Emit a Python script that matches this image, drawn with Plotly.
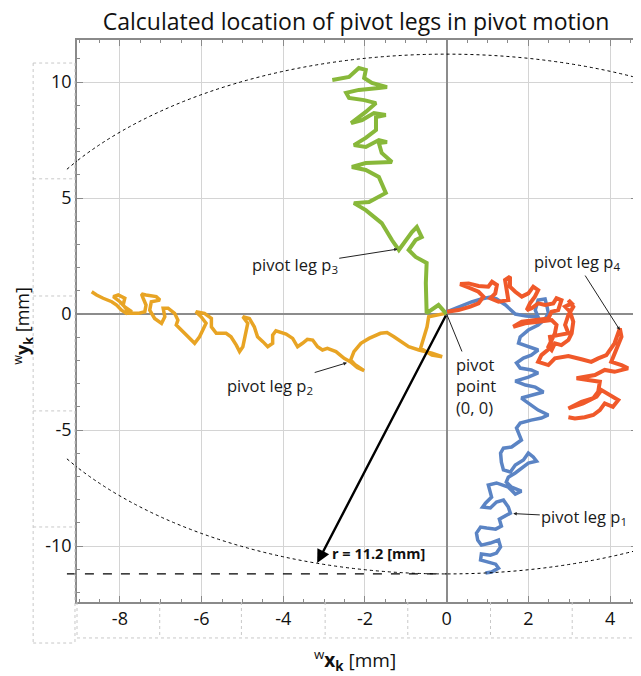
import plotly.graph_objects as go

# ---------------- data (mm) ----------------
p2_x = [-8.69,-8.57,-8.41,-8.20,-8.08,-7.96,-7.84,-7.71,-7.88,-8.00,-8.16,-8.04,-7.88,-7.92,-7.76,-7.55,-7.39,-7.36,-7.43,-7.47,
        -7.36,-7.11,-7.02,-7.23,-7.27,-7.15,-6.98,-6.90,-6.94,-6.82,-6.66,-6.58,-6.62,-6.46,-6.29,-6.17,-6.05,-5.97,-5.89,-6.01,
        -6.14,-5.93,-5.76,-5.76,-5.64,-5.40,-5.28,-5.15,-5.07,-4.99,-4.91,-4.87,-4.99,-4.83,-4.71,-4.63,-4.50,-4.38,-4.26,-4.26,
        -4.18,-3.93,-3.77,-3.65,-3.53,-3.41,-3.28,-3.16,-3.04,-2.92,-2.71,-2.51,-2.35,-2.19,-2.02,-2.23,-2.35,-2.27,-2.10,-1.90,
        -1.62,-1.46,-1.29,-1.13,-0.93,-0.68,-0.36,-0.11,-0.36,-0.64,-0.56,-0.48,-0.44,-0.24,-0.03]
p2_y = [0.96,0.82,0.68,0.53,0.39,0.17,0.03,0.10,0.31,0.53,0.75,0.82,0.68,0.39,0.03,0.03,0.10,0.39,0.68,0.86,
        0.82,0.75,0.60,0.53,0.17,-0.19,-0.40,-0.12,0.25,0.25,0.03,-0.26,-0.47,-0.76,-1.05,-1.26,-0.98,-0.69,-0.40,-0.12,
        0.10,0.03,-0.19,-0.55,-0.83,-0.83,-0.98,-1.34,-1.62,-1.41,-0.83,-0.40,-0.12,-0.19,-0.55,-0.98,-1.19,-1.41,-1.26,-0.91,
        -0.72,-0.86,-1.05,-1.41,-1.26,-1.09,-1.12,-1.41,-1.55,-1.48,-1.62,-1.91,-2.06,-2.30,-2.44,-2.20,-1.98,-1.62,-1.26,-1.05,
        -0.83,-0.80,-0.98,-1.19,-1.41,-1.55,-1.69,-1.84,-1.77,-1.48,-0.98,-0.55,-0.12,-0.04,0.03]

p3_x = [0.00,-0.20,-0.49,-0.51,-0.49,-0.76,-0.93,-0.76,-0.61,-0.73,-0.85,-1.17,-1.34,-1.59,-1.98,-2.27,-1.90,-1.49,-1.66,-1.98,
        -2.32,-1.98,-1.34,-1.59,-1.66,-1.46,-1.66,-1.98,-2.27,-1.98,-1.73,-1.73,-1.49,-1.78,-2.07,-2.34,-1.98,-1.73,-2.02,-2.39,
        -2.46,-2.15,-1.66,-1.46,-1.83,-2.02,-1.98,-2.15,-2.39,-2.80]
p3_y = [0.00,0.39,0.04,1.34,2.20,2.46,2.76,3.19,3.32,3.75,3.53,2.76,3.19,3.92,4.48,4.78,4.83,5.22,5.91,6.21,
        6.34,6.51,6.55,6.94,7.37,7.41,7.50,7.20,7.28,7.59,7.93,8.49,8.58,8.66,8.36,8.23,8.71,9.09,9.22,9.31,
        9.53,9.66,9.74,9.78,9.96,10.17,10.52,10.60,10.22,10.09]

p1_x = [0.00,0.29,0.61,0.85,1.07,1.22,1.44,1.68,1.95,2.24,2.17,2.24,2.41,2.46,2.49,2.41,2.24,2.00,1.80,1.76,
        2.00,2.24,2.07,1.88,1.71,1.80,2.07,2.24,2.00,1.68,1.93,2.17,2.37,2.07,1.83,2.00,2.24,2.49,2.32,2.07,
        1.80,1.71,1.76,1.83,1.59,1.39,1.32,1.34,1.39,1.56,1.68,1.88,2.00,2.12,2.20,2.00,1.68,1.51,1.46,1.59,
        1.83,1.68,1.51,1.22,1.02,1.07,1.10,0.95,0.88,1.07,1.22,1.39,1.51,1.56,1.39,1.29,1.34,1.20,0.98,0.83,
        0.73,0.76,0.85,1.07,1.27,1.32,1.22,1.07,0.85,0.83,1.02,1.20,1.27,1.10,0.95]
p1_y = [0.09,0.30,0.52,0.65,0.73,0.65,0.39,0.00,-0.09,-0.13,0.17,0.60,0.65,0.30,0.04,-0.22,-0.47,-0.69,-0.99,-1.25,
        -1.42,-1.55,-1.77,-1.90,-2.11,-2.33,-2.41,-2.54,-2.72,-2.89,-3.06,-3.15,-3.36,-3.49,-3.62,-3.84,-4.14,-4.35,-4.48,-4.57,
        -4.70,-4.91,-5.13,-5.43,-5.73,-5.78,-5.99,-6.38,-6.72,-6.81,-6.51,-6.29,-5.99,-6.16,-6.34,-6.42,-6.85,-7.03,-7.24,-7.46,
        -7.63,-7.76,-7.46,-7.28,-7.37,-7.63,-7.89,-8.15,-8.32,-8.36,-8.10,-8.02,-8.32,-8.58,-8.75,-8.84,-9.14,-9.27,-9.22,-9.18,
        -9.44,-9.74,-9.96,-9.87,-9.74,-10.04,-10.30,-10.39,-10.34,-10.60,-10.69,-10.78,-10.95,-11.12,-11.16]

p4_x = [0.01,0.29,0.58,0.78,0.90,0.78,0.58,0.33,0.54,0.78,1.02,1.11,1.23,1.19,1.07,1.27,1.51,1.47,1.43,1.55,
        1.55,1.68,1.84,2.00,2.12,2.24,2.16,2.04,1.96,2.08,2.24,2.41,2.61,2.69,2.81,2.73,2.57,
        2.49,2.24,1.84,1.63,1.92,2.24,2.57,2.69,2.65,2.57,2.49,2.57,2.65,2.81,2.98,3.06,3.10,3.02,2.90,3.06,
        2.98,3.10,2.98,2.90,2.98,2.73,2.53,2.57,2.32,2.24,2.49,2.65,2.98,3.30,3.54,3.71,3.91,4.11,4.20,4.24,
        4.28,4.15,4.03,4.28,4.44,4.11,3.87,3.63,3.38,3.18,3.46,3.75,3.71,3.59,3.30,2.98,3.34,3.67,3.79,3.99,
        4.20,4.07,3.87,3.75,3.59,3.38,3.14,2.98]
p4_y = [0.10,0.17,0.32,0.46,0.75,0.96,1.11,1.29,1.32,1.21,1.18,1.39,1.25,0.89,0.68,0.53,0.60,0.96,1.47,1.61,
        1.18,0.96,0.75,0.89,1.18,1.03,0.75,0.46,0.17,0.25,0.46,0.39,0.46,0.68,0.60,0.17,0.10,
        -0.19,-0.26,-0.33,-0.55,-0.40,-0.33,-0.26,-0.47,-0.83,-1.12,-1.41,-1.55,-1.26,-1.34,-1.12,-0.83,-0.33,0.10,0.32,0.46,
        0.60,0.31,-0.04,-0.47,-0.83,-0.91,-0.98,-1.41,-1.77,-2.06,-2.20,-1.91,-1.81,-1.95,-2.06,-1.91,-1.77,-1.26,-0.83,-0.62,
        -0.98,-1.55,-2.06,-2.20,-2.34,-2.49,-2.41,-2.63,-2.73,-2.77,-2.84,-2.92,-3.35,-3.63,-3.78,-4.07,-3.85,-3.56,-3.28,-3.49,
        -3.71,-4.00,-3.85,-4.14,-4.35,-4.45,-4.50,-4.45]

R = 11.2                       # radius of the pivot circle
r_tip = (-3.17, -10.73)        # end of the radius arrow on the circle

x_ticks = [-8, -6, -4, -2, 0, 2, 4]
y_ticks = [-10, -5, 0, 5, 10]

C_P1 = "#5b84c4"
C_P2 = "#e8a424"
C_P3 = "#88b83a"
C_P4 = "#f0592a"
FONT = "Open Sans"

fig = go.Figure()
for xs, ys, c, w in [(p2_x, p2_y, C_P2, 3.5), (p3_x, p3_y, C_P3, 4.0), (p1_x, p1_y, C_P1, 3.5), (p4_x, p4_y, C_P4, 4.0)]:
    fig.add_trace(go.Scatter(x=xs, y=ys, mode="lines", line=dict(color=c, width=w),
                             hoverinfo="skip", showlegend=False))

# circle and dashed radius level
dot = dict(color="black", width=1, dash="dot")
fig.add_shape(type="circle", xref="x", yref="y", x0=-R, x1=R, y0=-R, y1=R, line=dot, layer="above")
# small parts of the circle drawn beyond the left frame
fig.add_shape(type="line", xref="paper", yref="y", x0=-0.018, x1=0, y0=6.24, y1=6.6, line=dot)
fig.add_shape(type="line", xref="paper", yref="y", x0=-0.018, x1=0, y0=-6.24, y1=-6.6, line=dot)
fig.add_shape(type="line", xref="paper", yref="y", x0=-0.018, x1=0.66, y0=-R, y1=-R,
              line=dict(color="black", width=1.2, dash="dash"))

# dotted label boxes (decoration of the original figure)
box = dict(color="#c8c8c8", width=1, dash="dot")
lx0, lx1 = -0.0783, -0.0036
ys_box = [0.959, 0.753, 0.5445, 0.340, 0.1335, -0.073]
fig.add_shape(type="line", xref="paper", yref="paper", x0=lx0, x1=lx0, y0=ys_box[0], y1=ys_box[-1], line=box)
fig.add_shape(type="line", xref="paper", yref="paper", x0=lx1, x1=lx1, y0=ys_box[0], y1=ys_box[-1], line=box)
for yb in ys_box:
    fig.add_shape(type="line", xref="paper", yref="paper", x0=lx0, x1=lx1, y0=yb, y1=yb, line=box)
for xb in [0, 0.1477, 0.2936, 0.4431, 0.5907, 0.7384, 0.8843]:
    fig.add_shape(type="line", xref="paper", yref="paper", x0=xb, x1=xb, y0=0, y1=-0.064, line=box)
fig.add_shape(type="line", xref="paper", yref="paper", x0=0, x1=1.02, y0=-0.064, y1=-0.064, line=box)

ann_font = dict(family=FONT, size=16.5, color="#1a1a1a")
def label(text, tip, pos, head=2, align="center"):
    fig.add_annotation(x=tip[0], y=tip[1], ax=pos[0], ay=pos[1], axref="x", ayref="y",
                       xref="x", yref="y", text=text, showarrow=True, arrowhead=head,
                       arrowsize=0.7, arrowwidth=1, arrowcolor="#222", font=ann_font, align=align)

label("pivot leg p<sub>3</sub>", (-1.2, 2.8), (-3.72, 2.1))
label("pivot leg p<sub>2</sub>", (-2.44, -2.1), (-4.32, -3.1))
label("pivot<br>point<br>(0, 0)", (0.0, 0.0), (0.72, -3.1), head=0, align="left")
label("pivot leg p<sub>4</sub>", (4.24, -0.69), (3.18, 2.24))
label("pivot leg p<sub>1</sub>", (1.63, -8.6), (3.37, -8.75))

# radius arrow
fig.add_annotation(x=r_tip[0], y=r_tip[1], ax=0, ay=0, axref="x", ayref="y", xref="x", yref="y",
                   text="", showarrow=True, arrowhead=2, arrowsize=1.1, arrowwidth=2.4, arrowcolor="black")
fig.add_annotation(x=-1.66, y=-10.3, xref="x", yref="y", text="<b>r = 11.2 [mm]</b>", showarrow=False,
                   font=dict(family=FONT, size=14.5, color="#111"))

# axis titles
fig.add_annotation(x=0.496, y=-0.103, xref="paper", yref="paper", showarrow=False,
                   text="<sup>w</sup><b>x</b><sub><b>k</b></sub> [mm]",
                   font=dict(family=FONT, size=19, color="#111"), yanchor="middle")
fig.add_annotation(x=-0.097, y=0.491, xref="paper", yref="paper", showarrow=False, textangle=-90,
                   text="<sup>w</sup><b>y</b><sub><b>k</b></sub> [mm]",
                   font=dict(family=FONT, size=18, color="#111"), xanchor="center", yanchor="middle")

axis_common = dict(showline=True, linecolor="#8a8a8a", linewidth=1.5, mirror="allticks",
                   ticks="inside", ticklen=6, tickcolor="#8a8a8a", tickwidth=1,
                   showgrid=True, gridcolor="#d4d4d4", gridwidth=1,
                   zeroline=True, zerolinecolor="#8c8c8c", zerolinewidth=1.5,
                   tickfont=dict(family=FONT, size=18, color="#111"))
fig.update_xaxes(range=[-9.05, 4.66], tickvals=x_ticks, ticktext=[str(v) for v in x_ticks],
                 minor=dict(dtick=0.5, ticks="inside", ticklen=3, tickcolor="#8a8a8a", showgrid=False),
                 **axis_common)
fig.update_yaxes(range=[-12.41, 11.81], tickvals=y_ticks, ticktext=[str(v) for v in y_ticks],
                 minor=dict(dtick=1, ticks="inside", ticklen=3, tickcolor="#8a8a8a", showgrid=False),
                 **axis_common)

fig.update_layout(width=641, height=676, margin=dict(l=69, r=10, t=32, b=82),
                  title=dict(text="Calculated location of pivot legs in pivot motion",
                             font=dict(family=FONT, size=23, color="#111"),
                             x=0.543, xanchor="center", xref="container",
                             y=0.979, yanchor="middle", yref="container"),
                  plot_bgcolor="white", paper_bgcolor="white", showlegend=False)
fig.write_html("out.html")
